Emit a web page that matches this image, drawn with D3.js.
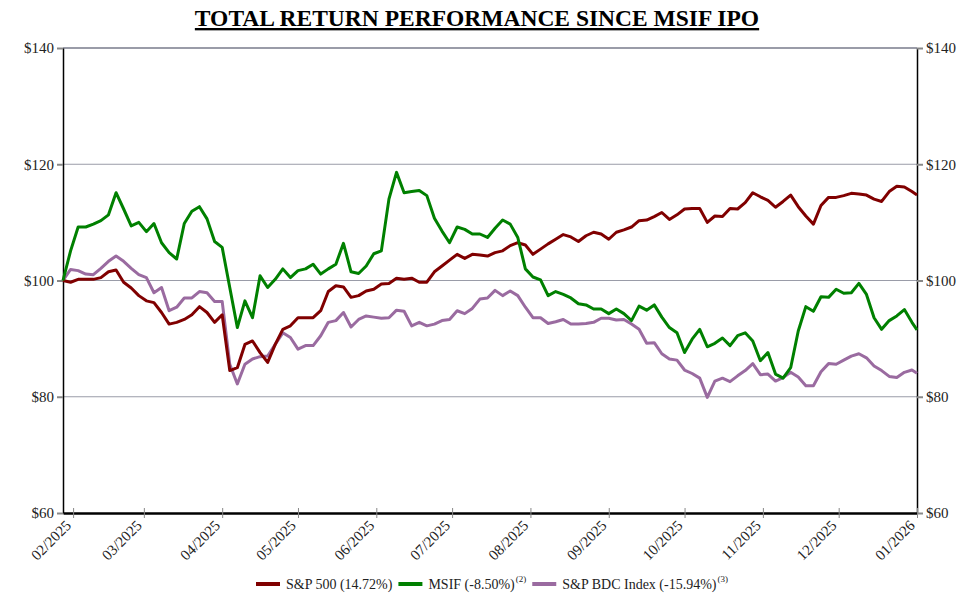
<!DOCTYPE html>
<html>
<head>
<meta charset="utf-8">
<script src="https://cdn.jsdelivr.net/npm/d3@7"></script>
<style>
  body { margin: 0; background: #fff; }
  svg { display: block; font-family: "Liberation Serif", "Times New Roman", serif; }
</style>
</head>
<body>
<svg id="chart" width="980" height="601"></svg>
<script>
// sampled every 3 days from the IPO to the end of 2025
const startDate = new Date(2025, 0, 28);
const endDate = new Date(2026, 0, 1);
const dates = d3.timeDay.range(startDate, new Date(2025, 11, 31), 3).concat([endDate]);

const sp500 = [
  100, 99.7, 100.2, 100.2, 100.2, 100.5, 101.5, 101.8, 99.7, 98.7,
  97.4, 96.5, 96.2, 94.5, 92.5, 92.8, 93.3, 94.1, 95.5,
  94.5, 92.8, 94.1, 84.5, 85.0, 89.0, 89.6, 87.6, 85.9, 89.0,
  91.6, 92.2, 93.6, 93.6, 93.6, 94.8, 98.1, 99.1, 98.9,
  97.1, 97.4, 98.2, 98.5, 99.4, 99.5, 100.4, 100.2, 100.4, 99.7,
  99.7, 101.5, 102.5, 103.5, 104.5, 103.8, 104.5, 104.4,
  104.2, 104.8, 105.1, 106.0, 106.5, 106.1, 104.5, 105.4, 106.3, 107.1,
  107.9, 107.5, 106.7, 107.7, 108.3, 108.0, 107.1, 108.3, 108.7,
  109.2, 110.3, 110.4, 111.0, 111.7, 110.5, 111.3, 112.3, 112.4, 112.4,
  110.0, 111.1, 111.0, 112.4, 112.3, 113.4, 115.1, 114.4,
  113.8, 112.6, 113.6, 114.7, 112.7, 111.1, 109.7, 112.9, 114.3, 114.3,
  114.6, 115.0, 114.9, 114.7, 114.0, 113.6, 115.3, 116.2, 116.1, 115.3,
  114.72
];

const msif = [
  100, 105.1, 109.2, 109.2, 109.7, 110.3, 111.3, 115.1, 112.3, 109.4,
  110.0, 108.4, 109.8, 106.5, 104.8, 103.7, 109.8, 111.9, 112.7,
  110.6, 106.7, 105.7, 98.8, 91.9, 96.5, 93.6, 100.8, 98.8, 100.2,
  102.0, 100.5, 101.7, 102.0, 102.8, 101.1, 102.0, 102.8, 106.4,
  101.5, 101.2, 102.5, 104.6, 105.1, 114.0, 118.6, 115.1, 115.3, 115.5,
  114.6, 110.7, 108.5, 106.5, 109.2, 108.8, 108.0, 108.0,
  107.4, 109.0, 110.4, 109.7, 107.4, 102.0, 100.6, 100.1, 97.4, 98.1,
  97.6, 97.0, 96.0, 95.8, 95.1, 95.1, 94.3, 95.1, 94.3,
  93.1, 95.6, 94.9, 95.8, 93.7, 91.9, 91.0, 87.6, 89.9, 91.6,
  88.6, 89.2, 90.1, 88.8, 90.5, 91.0, 89.6, 86.2,
  87.6, 83.9, 83.2, 85.0, 91.3, 95.5, 94.7, 97.2, 97.1, 98.5,
  97.8, 97.9, 99.5, 97.6, 93.6, 91.6, 93.1, 93.9, 95.0, 92.8,
  91.5
];

const bdc = [
  100, 101.9, 101.7, 101.1, 101.0, 102.1, 103.3, 104.2, 103.3, 102.1,
  101.0, 100.5, 97.9, 98.8, 94.8, 95.4, 97.0, 97.0, 98.1,
  97.9, 96.4, 96.4, 85.6, 82.2, 85.6, 86.5, 86.9, 87.0, 89.0,
  91.0, 90.2, 88.2, 88.8, 88.8, 90.5, 92.8, 93.1, 94.5,
  92.0, 93.3, 93.9, 93.7, 93.5, 93.6, 94.9, 94.7, 92.2, 92.8,
  92.2, 92.5, 93.1, 93.3, 94.8, 94.3, 95.2, 96.8,
  97.0, 98.3, 97.4, 98.2, 97.4, 95.4, 93.6, 93.6, 92.6, 92.9,
  93.3, 92.5, 92.5, 92.6, 92.8, 93.5, 93.5, 93.2, 93.3,
  92.5, 91.6, 89.2, 89.3, 87.4, 86.5, 86.3, 84.6, 84.0, 83.2,
  79.9, 82.7, 83.2, 82.6, 83.6, 84.5, 85.7, 83.8,
  83.9, 82.7, 83.3, 84.2, 83.4, 81.9, 81.9, 84.3, 85.7, 85.6,
  86.3, 87.0, 87.4, 86.7, 85.3, 84.5, 83.5, 83.3, 84.2, 84.6,
  84.06
];

const yTicks = [60, 80, 100, 120, 140];
const seriesNames = ["S&P 500 (14.72%)", "MSIF (-8.50%)", "S&P BDC Index (-15.94%)"];
const seriesNotes = ["", "(2)", "(3)"];
const seriesValues = [sp500, msif, bdc];
const colors = ["#800000", "#008000", "#9a6ba0"];

const svg = d3.select("#chart");
const plotLeft = 63, plotRight = 917, plotTop = 48, plotBottom = 513;

const x = d3.scaleTime().domain([startDate, endDate]).range([plotLeft, plotRight]);
const y = d3.scaleLinear().domain([60, 140]).range([plotBottom, plotTop]);

// title
svg.append("text")
  .attr("x", 477).attr("y", 26)
  .attr("text-anchor", "middle")
  .attr("font-size", 23.5).attr("font-weight", "bold")
  .attr("text-decoration", "underline")
  .text("TOTAL RETURN PERFORMANCE SINCE MSIF IPO");

// grid
svg.append("g").selectAll("line")
  .data(yTicks.filter(d => d > 60))
  .join("line")
  .attr("x1", plotLeft).attr("x2", plotRight)
  .attr("y1", d => y(d)).attr("y2", d => y(d))
  .attr("stroke", "#9a9ca8")
  .attr("stroke-width", d => d === 140 ? 2 : 1);

// y axes
const fmt = d => "$" + d;
function styleY(g) {
  g.select(".domain").attr("stroke", "#000").attr("stroke-width", 1.5);
  g.selectAll(".tick line").attr("stroke", "#888").attr("stroke-width", 2);
  g.selectAll(".tick text").attr("font-size", 15).attr("fill", "#222")
    .attr("font-family", "Liberation Serif, serif");
}
svg.append("g").attr("transform", `translate(${plotLeft},0)`)
  .call(d3.axisLeft(y).tickValues(yTicks).tickFormat(fmt).tickSize(6).tickSizeOuter(0).tickPadding(3))
  .call(styleY);
svg.append("g").attr("transform", `translate(${plotRight},0)`)
  .call(d3.axisRight(y).tickValues(yTicks).tickFormat(fmt).tickSize(6).tickSizeOuter(0).tickPadding(3))
  .call(styleY);

// x axis
const xg = svg.append("g").attr("transform", `translate(0,${plotBottom})`)
  .call(d3.axisBottom(x).ticks(d3.timeMonth.every(1)).tickFormat(d3.timeFormat("%m/%Y"))
    .tickSize(5).tickSizeOuter(0));
xg.select(".domain").attr("stroke", "#000").attr("stroke-width", 2.5);
xg.selectAll(".tick line").attr("stroke", "#888").attr("stroke-width", 1).attr("y1", -5);
xg.selectAll(".tick text")
  .attr("font-size", 15).attr("fill", "#222").attr("font-family", "Liberation Serif, serif")
  .attr("text-anchor", "end")
  .attr("transform", "translate(-9,6) rotate(-45)")
  .attr("dy", "0.7em").attr("y", 0).attr("x", 0);

// lines: purple under, then red, then green
const line = d3.line().x((d, i) => x(dates[i])).y(d => y(d));
[2, 0, 1].forEach(s => {
  svg.append("path")
    .attr("d", line(seriesValues[s]))
    .attr("fill", "none")
    .attr("stroke", colors[s])
    .attr("stroke-width", 3)
    .attr("stroke-linejoin", "round");
});

// legend
const lg = svg.append("g");
let cx = 0;
seriesNames.forEach((name, i) => {
  const item = lg.append("g").attr("transform", `translate(${cx},0)`);
  item.append("line").attr("x1", 0).attr("x2", 24).attr("y1", 0).attr("y2", 0)
    .attr("stroke", colors[i]).attr("stroke-width", 4);
  const t = item.append("text").attr("x", 30).attr("y", 5)
    .attr("font-size", 14).attr("fill", "#222").text(name);
  let w = 30 + t.node().getComputedTextLength();
  if (seriesNotes[i]) {
    const n = item.append("text").attr("x", w + 1).attr("y", -2)
      .attr("font-size", 9).attr("fill", "#222").text(seriesNotes[i]);
    w += 1 + n.node().getComputedTextLength();
  }
  cx += w + 6;
});
const lw = lg.node().getBBox().width;
lg.attr("transform", `translate(${492 - lw / 2},584)`);
</script>
</body>
</html>
